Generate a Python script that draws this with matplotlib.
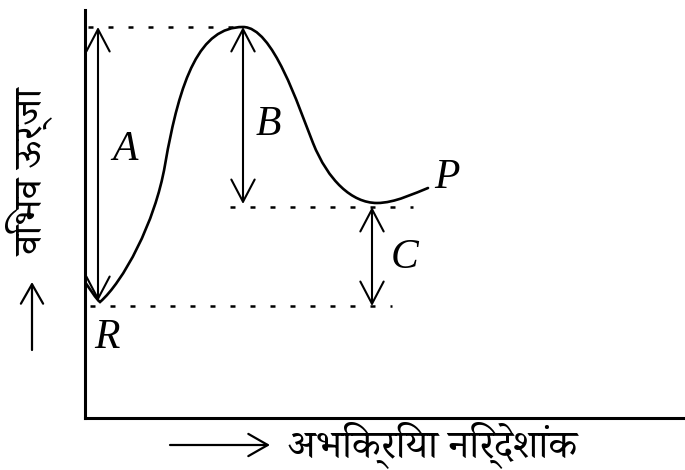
import matplotlib
matplotlib.use("Agg")
import matplotlib.pyplot as plt
from matplotlib.path import Path
from matplotlib.patches import PathPatch

# potential energy profile: anchor points on the curve with bezier handles
# (reaction coordinate, energy)
anchors = [(0.00, 1.36), (0.15, 1.16), (0.80, 2.53), (1.58, 3.91),
           (2.28, 2.75), (2.92, 2.15), (3.43, 2.30)]
handles = [((0.05, 1.29), (0.11, 1.19)),
           ((0.38, 1.36), (0.70, 1.95)),
           ((0.95, 3.40), (1.15, 3.91)),
           ((1.88, 3.91), (2.13, 3.125)),
           ((2.43, 2.375), (2.67, 2.15)),
           ((3.10, 2.15), (3.30, 2.25))]

e_peak = 3.91   # transition state
e_prod = 2.11   # P
e_react = 1.12  # R
x_peak = 1.58
x_prod = 2.87
x_A = 0.13

hindi = ['Noto Serif Devanagari', 'Noto Sans Devanagari', 'DejaVu Sans']
ylabel_text = 'विभव ऊर्जा'
xlabel_text = 'अभिक्रिया निर्देशांक'

fig = plt.figure(figsize=(6.85, 4.70), dpi=100)
ax = fig.add_axes([85 / 685, 52 / 470, 600 / 685, 408 / 470])
ax.set_xlim(0, 6.0)
ax.set_ylim(0, 4.08)
for s in ['top', 'right']:
    ax.spines[s].set_visible(False)
for s in ['left', 'bottom']:
    ax.spines[s].set_linewidth(2.2)
ax.set_xticks([])
ax.set_yticks([])

verts = [anchors[0]]
codes = [Path.MOVETO]
for (c1, c2), p in zip(handles, anchors[1:]):
    verts += [c1, c2, p]
    codes += [Path.CURVE4] * 3
ax.add_patch(PathPatch(Path(verts, codes), fill=False, color='black',
                       lw=1.9, capstyle='round'))

# dotted reference levels
dots = dict(color='black', lw=1.8, linestyle=(0, (2, 6)))
ax.plot([0.03, x_peak + 0.02], [e_peak, e_peak], **dots)
ax.plot([1.45, 3.28], [e_prod, e_prod], **dots)
ax.plot([0.05, 3.07], [e_react, e_react], **dots)

# energy gaps A, B, C
arr = dict(arrowstyle='<->,head_length=0.8,head_width=0.42', color='black',
           lw=1.5, shrinkA=0, shrinkB=0, mutation_scale=20)
ax.annotate('', xy=(x_A, e_peak), xytext=(x_A, e_react + 0.05), arrowprops=arr)
ax.annotate('', xy=(x_peak, e_peak), xytext=(x_peak, e_prod + 0.03), arrowprops=arr)
ax.annotate('', xy=(x_prod, e_prod), xytext=(x_prod, e_react), arrowprops=arr)

lab = dict(fontsize=30, family='Liberation Serif', style='italic',
           ha='center', va='center')
ax.text(0.40, 2.68, 'A', **lab)
ax.text(1.83, 2.93, 'B', **lab)
ax.text(3.20, 1.60, 'C', **lab)
ax.text(0.22, 0.80, 'R', **lab)
ax.text(3.62, 2.40, 'P', **lab)

# axis captions with arrows
head = dict(arrowstyle='->,head_length=0.7,head_width=0.4', color='black',
            lw=1.6, mutation_scale=20, shrinkA=0, shrinkB=0)
ax.annotate('', xy=(270 / 685, 25 / 470), xytext=(170 / 685, 25 / 470),
            xycoords='figure fraction', textcoords='figure fraction',
            arrowprops=head, annotation_clip=False)
fig.text(288 / 685, 25 / 470, xlabel_text, family=hindi, fontsize=29,
         ha='left', va='center')

ax.annotate('', xy=(32 / 685, 188 / 470), xytext=(32 / 685, 120 / 470),
            xycoords='figure fraction', textcoords='figure fraction',
            arrowprops=head, annotation_clip=False)
fig.text(30 / 685, 298 / 470, ylabel_text, family=hindi, fontsize=29,
         rotation=90, ha='center', va='center')

fig.savefig('out.png', dpi=100)
